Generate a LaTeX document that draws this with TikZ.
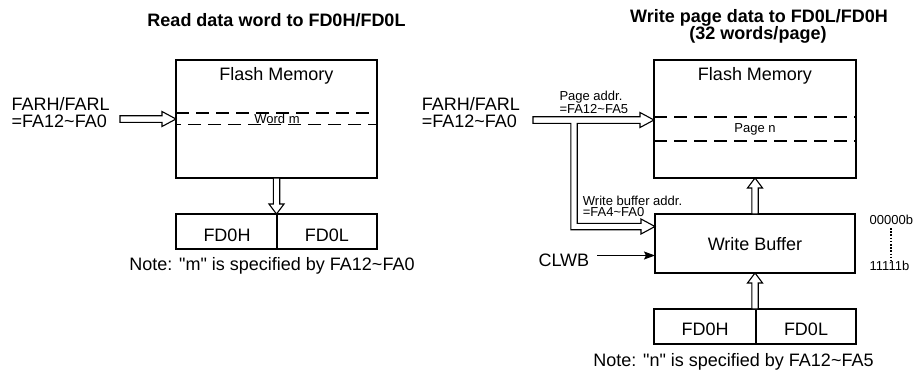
\documentclass[tikz,border=0pt]{standalone}
\usepackage{fontspec}
\setmainfont{Liberation Sans}[Ligatures=TeXOff]
\usetikzlibrary{calc,arrows.meta}
\newcommand{\HollowRight}[2]{%
  \draw[hollow] ($(#1)+(0,-3.3)$) -- ($(#2)+(-14,-3.3)$) -- ($(#2)+(-14,-7.5)$) -- (#2)
    -- ($(#2)+(-14,7.5)$) -- ($(#2)+(-14,3.3)$) -- ($(#1)+(0,3.3)$) -- cycle;}
\newcommand{\HollowUp}[2]{%
  \draw[hollow] ($(#1)+(-3.2,0)$) -- ($(#2)+(-3.2,10)$) -- ($(#2)+(-7.5,10)$) -- (#2)
    -- ($(#2)+(7.5,10)$) -- ($(#2)+(3.2,10)$) -- ($(#1)+(3.2,0)$) -- cycle;}
\newcommand{\HollowDown}[2]{%
  \draw[hollow] ($(#1)+(-3.2,0)$) -- ($(#2)+(-3.2,-10)$) -- ($(#2)+(-7.5,-10)$) -- (#2)
    -- ($(#2)+(7.5,-10)$) -- ($(#2)+(3.2,-10)$) -- ($(#1)+(3.2,0)$) -- cycle;}
\begin{document}
\begin{tikzpicture}[x=1pt,y=-1pt,
  box/.style={draw, line width=1.6pt, inner sep=0pt, outer sep=0pt},
  big/.style={font=\fontsize{18}{17}\selectfont, inner sep=0pt, anchor=base},
  small/.style={font=\fontsize{13}{12}\selectfont, inner sep=0pt, anchor=base west},
  ttl/.style={font=\fontsize{18}{16}\selectfont\bfseries, inner sep=0pt, anchor=base},
  hollow/.style={draw, fill=white, line width=1.1pt, line join=miter},
  dashline/.style={dash pattern=on 13pt off 7pt, line width=1.4pt},
  dotline/.style={dash pattern=on 1.6pt off 1.6pt, line width=1.3pt},
]
\useasboundingbox[fill=white] (0,0) rectangle (913,376);

% ---------------- left: read ----------------
\node[ttl] (t1) at (276.5,26) {Read data word to FD0H/FD0L};
\node[box, minimum width=201pt, minimum height=118pt] (fm1) at (276.5,119) {};
\node[big] (fm1t) at (276.5,80) {Flash Memory};
\draw[dashline] (176,113) -- (377,113);
\draw[dashline, dash phase=8pt] (176,124.5) -- (377,124.5);
\node[small, anchor=base] (wm) at (277,123) {Word m};
\node[big, anchor=base west] (farh1) at (11.5,110) {FARH/FARL};
\node[big, anchor=base west] (fa1) at (11.5,127) {=FA12\textasciitilde FA0};
\coordinate (a1s) at (120,119);
\coordinate (a1t) at (fm1.west |- a1s);
\HollowRight{a1s}{a1t}
\node[box, minimum width=101pt, minimum height=35pt] (fd1h) at (226.5,231.5) {};
\node[box, minimum width=100pt, minimum height=35pt] (fd1l) at (327,231.5) {};
\node[big] at (227,241.7) (fd1ht) {FD0H};
\node[big] at (327,241.7) (fd1lt) {FD0L};
\coordinate (a2s) at (fm1.south);
\coordinate (a2t) at (a2s |- fd1h.north);
\HollowDown{a2s}{a2t}
\node[big] (note1) at (272,270.5) {Note: "m" is specified by FA12\textasciitilde FA0};

% ---------------- right: write ----------------
\node[ttl] (t2a) at (759,22.5) {Write page data to FD0L/FD0H};
\node[ttl] (t2b) at (758,39) {(32 words/page)};
\node[box, minimum width=202pt, minimum height=118pt] (fm2) at (755,119) {};
\node[big] (fm2t) at (755,80) {Flash Memory};
\draw[dashline] (654,117) -- (856,117);
\draw[dashline] (654,141) -- (856,141);
\node[small, anchor=base] (pn) at (755,132.5) {Page n};
\node[box, minimum width=200pt, minimum height=59pt] (wb) at (755,243.5) {};
\node[big] (wbt) at (755,250) {Write Buffer};
\node[box, minimum width=102pt, minimum height=35pt] (fd2h) at (705,326.5) {};
\node[box, minimum width=100pt, minimum height=35pt] (fd2l) at (806,326.5) {};
\node[big] (fd2ht) at (705,335) {FD0H};
\node[big] (fd2lt) at (806,335) {FD0L};
\node[big] (note2) at (733.5,366.5) {Note: "n" is specified by FA12\textasciitilde FA5};

% up arrows
\coordinate (u1s) at (755,309);
\coordinate (u1t) at (u1s |- wb.south);
\HollowUp{u1s}{u1t}
\coordinate (u2s) at (u1s |- wb.north);
\coordinate (u2t) at (u1s |- fm2.south);
\HollowUp{u2s}{u2t}

% address inputs
\node[big, anchor=base west] (farh2) at (421.7,110) {FARH/FARL};
\node[big, anchor=base west] (fa2) at (421.7,127) {=FA12\textasciitilde FA0};
\node[small] (pa1) at (559.3,100.8) {Page addr.};
\node[small] (pa2) at (559.3,113.3) {=FA12\textasciitilde FA5};
\node[small] (wa1) at (582.7,205) {Write buffer addr.};
\node[small] (wa2) at (582.7,216.8) {=FA4\textasciitilde FA0};

\coordinate (s2) at (533,120);
\coordinate (t2) at (fm2.west |- s2);
\coordinate (bx) at (574,120);
\coordinate (t3y) at (0,226.5);
\coordinate (t3) at (wb.west |- t3y);
\coordinate (b3) at (bx |- t3y);
\draw[hollow] ($(s2)+(0,-3.3)$) -- ($(t2)+(-14,-3.3)$) -- ($(t2)+(-14,-7.5)$) -- (t2)
  -- ($(t2)+(-14,7.5)$) -- ($(t2)+(-14,3.3)$) -- ($(bx)+(3.2,3.3)$)
  -- ($(b3)+(3.2,-3.2)$) -- ($(t3)+(-14,-3.2)$) -- ($(t3)+(-14,-7.5)$) -- (t3)
  -- ($(t3)+(-14,7.5)$) -- ($(t3)+(-14,3.2)$) -- ($(b3)+(-3.2,3.2)$)
  -- ($(bx)+(-3.2,3.3)$) -- ($(s2)+(0,3.3)$) -- cycle;

% CLWB
\node[big, anchor=base west] (clwb) at (538.3,266) {CLWB};
\coordinate (cs) at (597,255.5);
\draw[line width=1.1pt, -{Stealth[length=11pt,width=8pt,inset=2pt]}] (cs) -- (wb.west |- cs);

% index range
\node[small] (b0) at (869.5,224) {00000b};
\node[small] (b1) at (869.5,270.7) {11111b};
\draw[dotline] (891,228) -- (891,260.5);
\end{tikzpicture}
\end{document}
